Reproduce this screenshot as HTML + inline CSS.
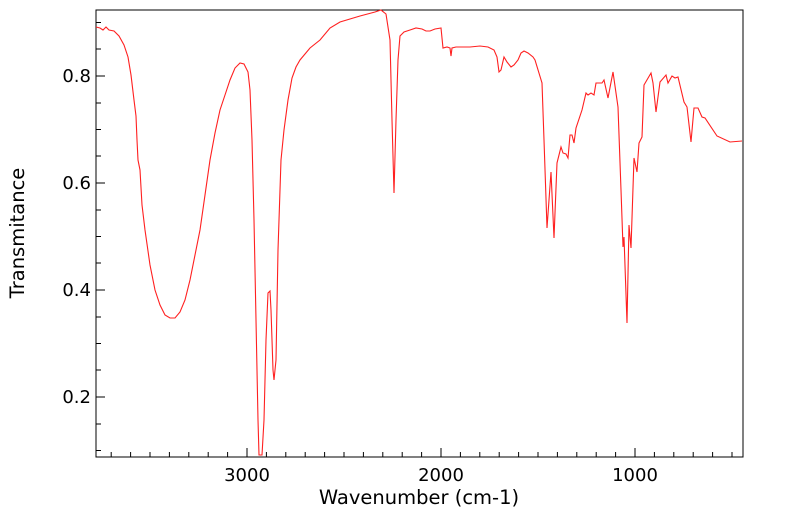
<!DOCTYPE html>
<html><head><style>
body{margin:0;background:#fff;}
svg{display:block;}
text{font-family:"DejaVu Sans","Liberation Sans",sans-serif;font-size:18px;fill:#000;}
</style></head><body>
<svg width="799" height="516" viewBox="0 0 799 516">
<rect x="96" y="10" width="647" height="447" fill="none" stroke="#000" stroke-width="1"/>
<g stroke="#000" stroke-width="1">
<line x1="96" y1="76" x2="105" y2="76"/>
<line x1="96" y1="183" x2="105" y2="183"/>
<line x1="96" y1="290" x2="105" y2="290"/>
<line x1="96" y1="397" x2="105" y2="397"/>
<line x1="96" y1="22.5" x2="101" y2="22.5"/>
<line x1="96" y1="49" x2="101" y2="49"/>
<line x1="96" y1="103" x2="101" y2="103"/>
<line x1="96" y1="129.5" x2="101" y2="129.5"/>
<line x1="96" y1="156" x2="101" y2="156"/>
<line x1="96" y1="210" x2="101" y2="210"/>
<line x1="96" y1="236.5" x2="101" y2="236.5"/>
<line x1="96" y1="263" x2="101" y2="263"/>
<line x1="96" y1="317" x2="101" y2="317"/>
<line x1="96" y1="343.5" x2="101" y2="343.5"/>
<line x1="96" y1="370" x2="101" y2="370"/>
<line x1="96" y1="424" x2="101" y2="424"/>
<line x1="96" y1="450.5" x2="101" y2="450.5"/>
<line x1="247" y1="457" x2="247" y2="448"/>
<line x1="441" y1="457" x2="441" y2="448"/>
<line x1="635" y1="457" x2="635" y2="448"/>
</g>
<g stroke="#000" stroke-width="1" id="xm"></g>
<g fill="#000">
<text x="247" y="481" text-anchor="middle">3000</text>
<text x="441" y="481" text-anchor="middle">2000</text>
<text x="635" y="481" text-anchor="middle">1000</text>
<text x="91" y="82" text-anchor="end">0.8</text>
<text x="91" y="189" text-anchor="end">0.6</text>
<text x="91" y="296" text-anchor="end">0.4</text>
<text x="91" y="403" text-anchor="end">0.2</text>
<text x="419" y="504" text-anchor="middle" style="font-size:19.5px">Wavenumber (cm-1)</text>
<text x="24" y="233" text-anchor="middle" transform="rotate(-90 24 233)" style="font-size:19.5px">Transmitance</text>
</g>
<path fill="none" stroke="#ff2020" stroke-width="1.1" d="M96,27 L100,28 L103,30 L106,27 L109,30 L114,31 L119,36 L124,45 L128,57 L131,75 L134,100 L136,116 L137,140 L138,160 L140,170 L142,205 L145,230 L150,265 L155,290 L160,305 L165,315 L170,318 L175,318 L180,312 L185,300 L190,280 L195,255 L200,230 L205,195 L210,160 L215,133 L220,110 L225,95 L230,80 L235,68 L240,63 L244,64 L248,72 L250,90 L252,140 L254,220 L256,320 L258,420 L259,455 L262,455 L264,420 L266,340 L268,293 L270,291 L271,310 L273,370 L274,380 L276,360 L278,250 L281,160 L284,130 L288,100 L292,78 L296,67 L300,60 L310,48 L320,40 L330,28 L340,22 L360,16 L375,12 L381,10 L386,14 L390,40 L392,120 L394,193 L396,120 L398,60 L400,36 L404,32 L410,30 L416,28 L422,29 L426,31 L430,31 L435,29 L441,28 L443,48 L447,47 L450,48 L451,56 L452,48 L456,47 L465,47 L470,47 L480,46 L488,47 L494,50 L497,57 L499,72 L501,70 L504,57 L507,62 L511,67 L514,65 L518,60 L521,53 L524,51 L528,53 L533,57 L535,60 L542,83 L544,140 L547,228 L551,172 L554,238 L557,163 L561,147 L563,153 L566,154 L568,158 L570,135 L572,135 L574,143 L576,128 L582,110 L586,93 L588,95 L591,93 L594,95 L596,83 L602,83 L604,80 L608,98 L613,72 L618,107 L621,190 L623,247 L624,237 L627,323 L629,225 L631,248 L634,158 L637,172 L639,143 L642,137 L644,85 L651,73 L653,83 L656,112 L660,82 L666,75 L668,83 L672,76 L675,78 L678,77 L684,102 L687,107 L691,142 L694,108 L698,108 L702,117 L705,118 L717,136 L730,142 L742,141"/>
</svg>
<script>
var g=document.getElementById('xm'),s='';
for(var w=3700;w>=500;w-=100){if(w%1000==0)continue;var x=247+(3000-w)*0.194;if(x<96||x>743)continue;s+='<line x1="'+x+'" y1="457" x2="'+x+'" y2="452"/>';}
g.innerHTML=s;
</script>
</body></html>
